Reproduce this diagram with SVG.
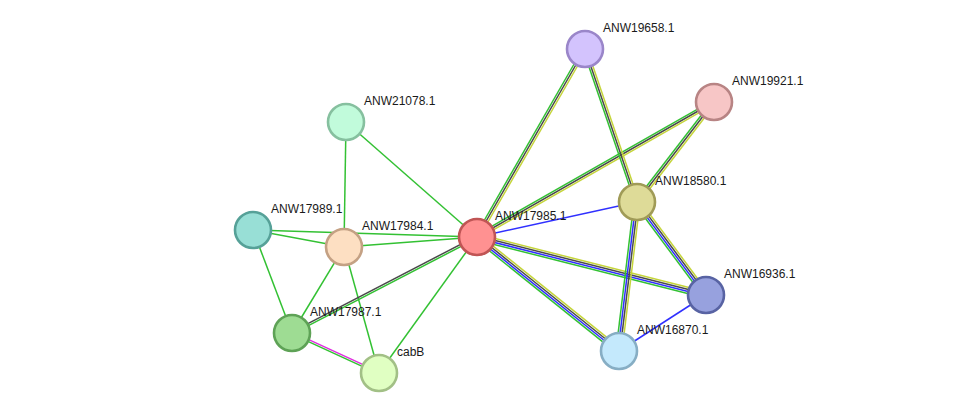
<svg xmlns="http://www.w3.org/2000/svg" width="976" height="418" viewBox="0 0 976 418">
<style>
.e line{stroke-width:1.5;fill:none}
.g{stroke:#33c133}.k{stroke:#4a4a4a}.y{stroke:#c5d53a}.b{stroke:#3030ff}.m{stroke:#e02ee0}
.n circle{stroke-width:2.6}
.n text{font-family:"Liberation Sans",Arial,sans-serif;font-size:12px;fill:#1a1a1a}
</style>
<rect width="976" height="418" fill="#ffffff"/>
<g id="connectors" class="e">
<line class="g" x1="475.3" y1="236" x2="583.3" y2="48"/>
<line class="k" x1="477" y1="237" x2="585" y2="49"/>
<line class="y" x1="478.7" y1="238" x2="586.7" y2="50"/>
<line class="g" x1="476" y1="235.3" x2="713" y2="100.3"/>
<line class="k" x1="477" y1="237" x2="714" y2="102"/>
<line class="y" x1="478" y1="238.7" x2="715" y2="103.7"/>
<line class="g" x1="583.1" y1="49.6" x2="635.1" y2="202.6"/>
<line class="k" x1="585" y1="49" x2="637" y2="202"/>
<line class="y" x1="586.9" y1="48.4" x2="638.9" y2="201.4"/>
<line class="g" x1="712.4" y1="100.8" x2="635.4" y2="200.8"/>
<line class="k" x1="714" y1="102" x2="637" y2="202"/>
<line class="y" x1="715.6" y1="103.2" x2="638.6" y2="203.2"/>
<line class="b" x1="477" y1="237" x2="637" y2="202"/>
<line class="y" x1="477.74" y1="234.09" x2="706.74" y2="292.09"/>
<line class="k" x1="477.25" y1="236.03" x2="706.25" y2="294.03"/>
<line class="b" x1="476.75" y1="237.97" x2="705.75" y2="295.97"/>
<line class="g" x1="476.26" y1="239.91" x2="705.26" y2="297.91"/>
<line class="g" x1="475.12" y1="239.34" x2="617.12" y2="353.34"/>
<line class="b" x1="476.37" y1="237.78" x2="618.37" y2="351.78"/>
<line class="k" x1="477.63" y1="236.22" x2="619.63" y2="350.22"/>
<line class="y" x1="478.88" y1="234.66" x2="620.88" y2="348.66"/>
<line class="g" x1="634.59" y1="203.79" x2="703.59" y2="296.79"/>
<line class="b" x1="636.2" y1="202.6" x2="705.2" y2="295.6"/>
<line class="k" x1="637.8" y1="201.4" x2="706.8" y2="294.4"/>
<line class="y" x1="639.41" y1="200.21" x2="708.41" y2="293.21"/>
<line class="g" x1="634.02" y1="201.64" x2="616.02" y2="350.64"/>
<line class="b" x1="636.01" y1="201.88" x2="618.01" y2="350.88"/>
<line class="k" x1="637.99" y1="202.12" x2="619.99" y2="351.12"/>
<line class="y" x1="639.98" y1="202.36" x2="621.98" y2="351.36"/>
<line class="b" x1="706" y1="295" x2="619" y2="351"/>
<line class="g" x1="346" y1="122" x2="477" y2="237"/>
<line class="g" x1="346" y1="122" x2="344" y2="247"/>
<line class="g" x1="253" y1="230" x2="344" y2="247"/>
<line class="g" x1="253" y1="230" x2="477" y2="237"/>
<line class="g" x1="344" y1="247" x2="477" y2="237"/>
<line class="g" x1="253" y1="230" x2="292" y2="333"/>
<line class="g" x1="344" y1="247" x2="292" y2="333"/>
<line class="g" x1="344" y1="247" x2="379" y2="373"/>
<line class="k" x1="476.54" y1="236.11" x2="291.54" y2="332.11"/>
<line class="g" x1="477.46" y1="237.89" x2="292.46" y2="333.89"/>
<line class="g" x1="477" y1="237" x2="379" y2="373"/>
<line class="m" x1="292.42" y1="332.09" x2="379.42" y2="372.09"/>
<line class="g" x1="291.58" y1="333.91" x2="378.58" y2="373.91"/>
</g>
<g id="ANW19658.1" class="n"><circle cx="585" cy="49" r="18" fill="#d3c3fd" stroke="#9a86c9"/><text x="603" y="32">ANW19658.1</text></g>
<g id="ANW19921.1" class="n"><circle cx="714" cy="102" r="18" fill="#f7c6c6" stroke="#b88484"/><text x="732" y="85">ANW19921.1</text></g>
<g id="ANW21078.1" class="n"><circle cx="346" cy="122" r="18" fill="#c1fbdb" stroke="#86c09f"/><text x="364" y="105">ANW21078.1</text></g>
<g id="ANW18580.1" class="n"><circle cx="637" cy="202" r="18" fill="#dedb98" stroke="#a09b57"/><text x="655" y="185">ANW18580.1</text></g>
<g id="ANW17989.1" class="n"><circle cx="253" cy="230" r="18" fill="#98dfd6" stroke="#56a198"/><text x="271" y="213">ANW17989.1</text></g>
<g id="ANW17984.1" class="n"><circle cx="344" cy="247" r="18" fill="#fddfc2" stroke="#c4a184"/><text x="362" y="230">ANW17984.1</text></g>
<g id="ANW17985.1" class="n"><circle cx="477" cy="237" r="18" fill="#ff9191" stroke="#c05555"/><text x="495" y="220">ANW17985.1</text></g>
<g id="ANW16936.1" class="n"><circle cx="706" cy="295" r="18" fill="#97a1de" stroke="#5863a3"/><text x="724" y="278">ANW16936.1</text></g>
<g id="ANW17987.1" class="n"><circle cx="292" cy="333" r="18" fill="#9edc93" stroke="#5ea256"/><text x="310" y="316">ANW17987.1</text></g>
<g id="ANW16870.1" class="n"><circle cx="619" cy="351" r="18" fill="#c4e9fc" stroke="#87aec4"/><text x="637" y="334">ANW16870.1</text></g>
<g id="cabB" class="n"><circle cx="379" cy="373" r="18" fill="#e0ffc2" stroke="#a2c086"/><text x="397" y="356">cabB</text></g>
</svg>
